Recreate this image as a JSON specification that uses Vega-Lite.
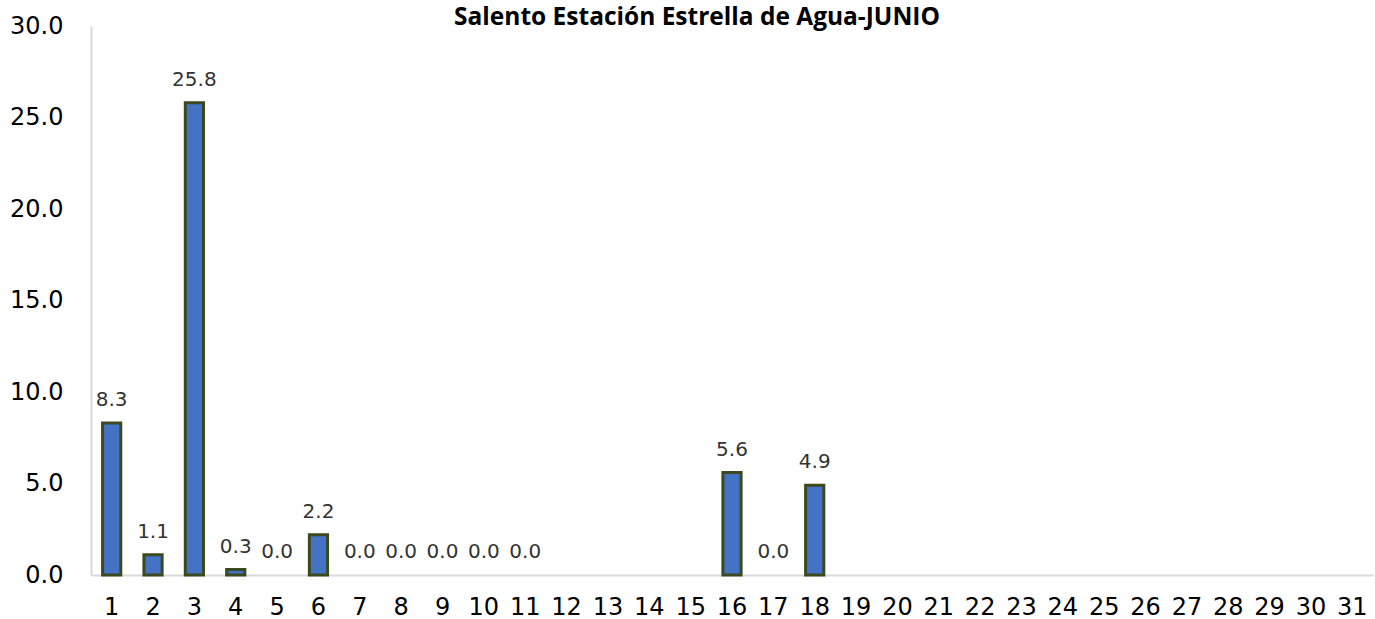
{
  "$schema": "https://vega.github.io/schema/vega-lite/v6.json",
  "autosize": {"type": "none"},
  "width": 1282,
  "height": 549,
  "padding": {"left": 91, "top": 26, "right": 2, "bottom": 44},
  "background": "white",
  "config": {"view": {"stroke": null}, "font": "DejaVu Sans"},
  "title": {
    "text": "Salento Estación Estrella de Agua-JUNIO",
    "font": "Open Sans",
    "fontSize": 24.5,
    "fontWeight": "bold",
    "color": "#000000",
    "anchor": "middle",
    "dx": -35,
    "offset": -16
  },
  "data": {
    "values": [
      {"day": 1, "value": 8.3},
      {"day": 2, "value": 1.1},
      {"day": 3, "value": 25.8},
      {"day": 4, "value": 0.3},
      {"day": 5, "value": 0.0},
      {"day": 6, "value": 2.2},
      {"day": 7, "value": 0.0},
      {"day": 8, "value": 0.0},
      {"day": 9, "value": 0.0},
      {"day": 10, "value": 0.0},
      {"day": 11, "value": 0.0},
      {"day": 12, "value": null},
      {"day": 13, "value": null},
      {"day": 14, "value": null},
      {"day": 15, "value": null},
      {"day": 16, "value": 5.6},
      {"day": 17, "value": 0.0},
      {"day": 18, "value": 4.9},
      {"day": 19, "value": null},
      {"day": 20, "value": null},
      {"day": 21, "value": null},
      {"day": 22, "value": null},
      {"day": 23, "value": null},
      {"day": 24, "value": null},
      {"day": 25, "value": null},
      {"day": 26, "value": null},
      {"day": 27, "value": null},
      {"day": 28, "value": null},
      {"day": 29, "value": null},
      {"day": 30, "value": null},
      {"day": 31, "value": null}
    ]
  },
  "encoding": {
    "x": {
      "field": "day",
      "type": "ordinal",
      "sort": null,
      "scale": {
        "domain": [1,2,3,4,5,6,7,8,9,10,11,12,13,14,15,16,17,18,19,20,21,22,23,24,25,26,27,28,29,30,31],
        "paddingInner": 0.56,
        "paddingOuter": 0.28
      },
      "axis": {
        "title": null,
        "labelAngle": 0,
        "labelFont": "DejaVu Sans",
        "labelFontSize": 24,
        "labelColor": "#000000",
        "labelPadding": 20,
        "ticks": false,
        "domainColor": "#d9d9d9",
        "domainWidth": 2
      }
    },
    "y": {
      "field": "value",
      "type": "quantitative",
      "scale": {"domain": [0, 30], "nice": false},
      "axis": {
        "title": null,
        "values": [0, 5, 10, 15, 20, 25, 30],
        "format": ".1f",
        "labelFont": "DejaVu Sans",
        "labelFontSize": 24,
        "labelColor": "#000000",
        "labelPadding": 28,
        "ticks": false,
        "grid": false,
        "domainColor": "#d9d9d9",
        "domainWidth": 2
      }
    }
  },
  "layer": [
    {
      "transform": [{"filter": "datum.value > 0"}],
      "mark": {
        "type": "bar",
        "fill": "#4472C4",
        "stroke": "#3b4a1e",
        "strokeWidth": 3
      }
    },
    {
      "transform": [{"filter": "isValid(datum.value)"}],
      "mark": {
        "type": "text",
        "baseline": "alphabetic",
        "dy": -17,
        "font": "DejaVu Sans",
        "fontSize": 20,
        "color": "#333333"
      },
      "encoding": {
        "text": {"field": "value", "type": "quantitative", "format": ".1f"}
      }
    }
  ]
}
